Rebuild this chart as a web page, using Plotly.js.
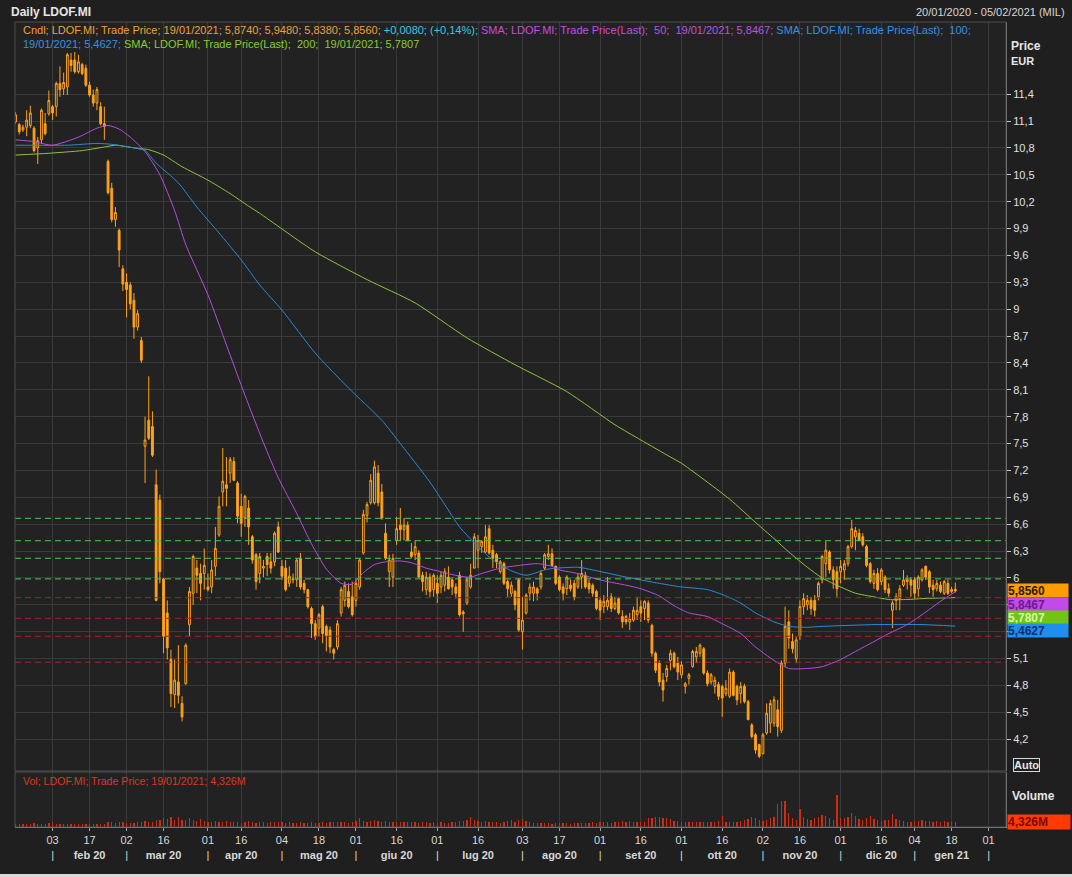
<!DOCTYPE html>
<html><head><meta charset="utf-8">
<script src="https://cdn.plot.ly/plotly-3.0.1.min.js"></script>
<style>html,body{margin:0;padding:0;background:#1f1f1f;overflow:hidden}#chart{width:1072px;height:877px}</style>
</head><body><div id="chart"></div>
<script>
// ---- calendar (trading days, Borsa Italiana) ----
const startDate = '2020-01-20';
const endDate = '2021-02-05';
const holidays = ['2020-04-10','2020-04-13','2020-05-01','2020-12-24','2020-12-25','2020-12-31','2021-01-01'];

// ---- OHLC values (one per trading day, 20/01/2020 .. 19/01/2021) ----
const openP = [
11.09,11.06,11.00,11.03,11.05,11.02,10.80,10.89,11.07,11.18,
11.26,11.26,11.52,11.46,11.48,11.78,11.78,11.65,11.73,11.69,
11.50,11.39,11.30,11.26,11.07,10.65,10.35,10.00,9.88,9.45,
9.30,9.27,9.10,8.80,8.65,7.47,7.76,7.69,7.04,6.87,
5.99,5.61,5.09,4.70,4.84,4.60,4.82,5.48,5.83,6.11,
6.05,6.05,5.90,5.90,6.13,6.48,6.96,7.04,7.17,7.30,
7.06,6.80,6.67,6.78,6.46,6.26,6.05,6.11,6.24,6.18,
6.18,6.57,6.13,6.11,5.94,5.98,5.98,6.22,5.94,5.87,
5.66,5.49,5.44,5.68,5.46,5.42,5.20,5.23,5.61,5.75,
5.85,5.79,5.75,5.90,6.28,6.70,6.84,6.84,7.17,6.96,
6.50,6.07,6.01,6.42,6.59,6.54,6.59,6.29,6.26,6.28,
6.03,5.87,6.01,5.87,5.94,5.90,5.92,6.01,5.98,5.90,
6.03,5.62,5.72,5.90,6.11,6.31,6.35,6.29,6.55,6.31,
6.26,6.07,6.16,5.96,5.83,5.85,5.98,5.40,5.61,5.83,
5.83,5.88,5.90,6.11,6.24,6.27,6.13,6.01,5.90,5.88,
5.92,5.94,5.90,6.01,6.03,5.94,5.92,5.85,5.75,5.68,
5.68,5.79,5.66,5.77,5.57,5.57,5.51,5.53,5.59,5.68,
5.66,5.72,5.47,5.16,5.05,4.86,4.90,5.08,5.16,5.05,
4.92,4.79,4.88,5.01,5.12,5.16,5.21,4.94,4.84,4.79,
4.81,4.79,4.71,4.68,4.95,4.79,4.71,4.79,4.62,4.36,
4.25,4.14,4.04,4.27,4.38,4.38,4.53,4.30,5.05,5.51,
5.29,5.10,5.35,5.68,5.70,5.75,5.75,5.79,5.98,6.16,
6.29,6.09,6.07,6.07,6.09,6.16,6.35,6.46,6.50,6.46,
6.35,6.16,5.94,6.05,5.96,6.01,5.88,5.64,5.75,5.77,
5.92,5.96,5.98,5.98,5.88,5.98,6.13,6.07,5.92,5.88,
5.92,5.83,5.94,5.85,5.874];
const highP = [
11.20,11.08,11.06,11.22,11.27,11.04,10.92,11.24,11.19,11.44,
11.28,11.54,11.71,11.64,11.86,11.86,11.87,11.84,11.75,11.73,
11.54,11.45,11.48,11.31,11.26,10.67,10.41,10.14,9.90,9.49,
9.40,9.30,9.18,8.99,8.69,7.80,8.25,7.86,7.21,6.93,
6.00,5.75,5.20,5.09,5.25,4.68,5.27,5.90,6.26,6.20,
6.16,6.33,6.05,6.20,6.57,6.91,7.45,7.35,7.35,7.35,
7.08,6.94,6.93,6.87,6.48,6.28,6.28,6.20,6.28,6.28,
6.52,6.63,6.20,6.20,6.13,6.05,6.22,6.28,5.98,5.88,
5.68,5.53,5.61,5.70,5.48,5.46,5.22,5.53,5.90,5.96,
5.94,5.96,5.98,6.22,6.76,6.85,7.16,7.31,7.26,7.05,
6.61,6.26,6.27,6.68,6.78,6.67,6.63,6.39,6.42,6.31,
6.07,6.07,6.05,6.05,6.03,6.07,6.11,6.13,6.01,5.94,
6.07,5.64,6.01,6.16,6.50,6.48,6.42,6.59,6.59,6.37,
6.28,6.20,6.18,5.98,5.96,5.87,6.00,5.79,5.83,5.94,
5.96,5.90,6.09,6.28,6.37,6.33,6.14,6.03,5.94,6.03,
5.98,5.98,6.05,6.20,6.07,5.98,5.94,5.87,5.79,5.81,
6.01,5.83,5.79,5.79,5.64,5.59,5.61,5.68,5.79,5.75,
5.75,5.75,5.49,5.18,5.08,4.94,5.03,5.20,5.18,5.12,
5.07,4.84,4.94,5.20,5.23,5.27,5.23,4.97,4.94,4.90,
4.84,4.81,4.86,4.99,4.97,4.81,4.84,4.82,4.64,4.38,
4.27,4.15,4.27,4.60,4.64,4.68,4.64,5.08,5.68,5.64,
5.38,5.34,5.75,5.83,5.81,5.79,5.81,5.96,6.26,6.41,
6.31,6.13,6.13,6.20,6.20,6.37,6.65,6.57,6.55,6.50,
6.37,6.18,6.09,6.11,6.11,6.03,5.94,5.75,5.83,5.92,
6.09,6.03,6.01,6.01,6.03,6.11,6.14,6.09,5.98,5.98,
5.96,5.98,5.98,5.90,5.948];
const lowP = [
11.07,10.95,10.98,10.93,11.02,10.75,10.62,10.85,10.94,11.16,
11.11,11.15,11.37,11.39,11.39,11.65,11.63,11.63,11.61,11.48,
11.37,11.26,11.22,11.05,10.89,10.28,9.97,9.92,9.47,9.20,
8.91,9.00,8.67,8.76,8.40,7.06,7.54,7.35,5.74,5.94,
5.16,5.09,4.56,4.55,4.60,4.40,4.81,5.35,5.70,5.83,
5.75,5.87,5.85,5.83,6.02,6.46,6.80,6.80,7.06,7.08,
6.61,6.46,6.57,6.37,6.16,5.87,5.94,6.01,6.02,6.05,
6.13,6.28,5.98,5.85,5.90,5.94,5.90,5.87,5.83,5.66,
5.33,5.31,5.35,5.27,5.18,5.16,5.09,5.20,5.57,5.68,
5.66,5.57,5.68,5.87,6.26,6.62,6.82,6.82,6.80,6.65,
6.20,5.90,5.90,6.37,6.42,6.42,6.41,6.22,6.20,6.00,
5.85,5.81,5.79,5.79,5.72,5.83,5.85,5.87,5.81,5.77,
5.57,5.40,5.70,5.88,6.11,6.11,6.28,6.28,6.26,6.11,
6.11,6.05,5.92,5.79,5.79,5.64,5.40,5.20,5.59,5.75,
5.74,5.75,5.87,6.09,6.20,6.13,5.92,5.85,5.75,5.81,
5.85,5.75,5.88,5.88,5.88,5.83,5.79,5.64,5.53,5.61,
5.64,5.62,5.64,5.59,5.44,5.48,5.42,5.51,5.53,5.51,
5.53,5.50,5.12,4.94,4.79,4.62,4.84,4.97,4.99,4.86,
4.88,4.71,4.81,5.00,5.05,5.12,4.92,4.79,4.81,4.71,
4.64,4.45,4.68,4.66,4.68,4.58,4.60,4.60,4.41,4.21,
4.04,3.99,4.03,4.25,4.27,4.34,4.23,4.27,5.01,5.21,
5.16,5.05,5.31,5.59,5.64,5.59,5.57,5.75,5.94,6.01,
6.05,5.88,5.79,5.94,5.98,6.13,6.33,6.31,6.41,6.35,
6.12,5.94,5.88,5.85,5.92,5.83,5.79,5.44,5.64,5.64,
5.90,5.87,5.79,5.77,5.79,5.96,5.98,5.83,5.79,5.85,
5.83,5.81,5.81,5.83,5.838];
const closeP = [
11.17,10.98,11.03,11.11,11.19,10.77,10.88,11.22,10.96,11.33,
11.19,11.52,11.45,11.53,11.84,11.72,11.65,11.76,11.63,11.50,
11.39,11.30,11.45,11.07,11.04,10.30,10.00,10.08,9.66,9.28,
9.22,9.06,8.80,8.95,8.43,7.54,7.56,7.37,5.75,6.07,
5.35,5.22,4.71,4.86,4.69,4.45,5.25,5.85,6.24,6.03,
5.94,6.14,5.87,6.09,6.33,6.80,7.08,7.00,7.32,7.09,
6.69,6.61,6.91,6.57,6.20,5.96,6.24,6.13,6.15,6.11,
6.50,6.29,6.02,5.87,6.02,5.99,6.20,5.90,5.87,5.68,
5.49,5.35,5.59,5.38,5.35,5.23,5.16,5.49,5.87,5.92,
5.68,5.59,5.94,6.20,6.71,6.82,7.09,7.24,6.84,6.67,
6.22,6.20,6.22,6.55,6.54,6.59,6.42,6.24,6.35,6.01,
5.96,6.01,5.85,6.03,5.83,6.03,6.07,5.88,5.90,5.83,
5.59,5.60,5.98,6.03,6.46,6.42,6.41,6.46,6.28,6.22,
6.18,6.18,5.94,5.88,5.92,5.70,5.42,5.53,5.81,5.90,
5.90,5.83,6.05,6.26,6.27,6.14,5.94,5.87,5.83,6.01,
5.88,5.79,6.01,6.05,5.90,5.88,5.83,5.66,5.64,5.74,
5.75,5.66,5.72,5.61,5.51,5.51,5.55,5.64,5.64,5.61,
5.74,5.53,5.16,4.97,4.84,4.75,4.99,5.16,5.01,4.95,
5.03,4.82,4.92,5.18,5.18,5.25,4.94,4.82,4.92,4.86,
4.68,4.66,4.77,4.95,4.69,4.64,4.79,4.62,4.42,4.23,
4.08,4.01,4.25,4.49,4.60,4.64,4.34,5.05,5.46,5.33,
5.21,5.31,5.68,5.77,5.75,5.66,5.64,5.94,6.24,6.31,
6.09,5.98,5.88,6.13,6.16,6.35,6.55,6.53,6.42,6.37,
6.14,5.96,6.05,5.87,6.09,5.87,5.83,5.72,5.79,5.88,
5.98,5.98,5.92,5.83,6.01,6.09,6.01,5.90,5.87,5.94,
5.85,5.96,5.83,5.87,5.856];

// ---- volume (millions), month by month ----
const volJan20 = [2.4,2.8,2.2,2.6,2.3,3.5,3.0,2.8,2.5,3.2];
const volFeb20 = [4.5,3.0,2.7,2.5,2.4,2.6,2.3,2.5,2.4,2.8,2.6,2.2,2.5,3.0,2.8,4.5,4.2,3.8,4.5,4.0];
const volMar20 = [3.8,3.6,3.9,4.2,4.0,5.5,4.8,4.6,6.5,5.8,7.5,6.8,8.5,6.0,8.6,6.5,5.8,8.0,6.2,5.5,6.8,5.0];
const volApr20 = [4.5,4.0,5.2,4.8,4.2,5.0,4.3,4.0,4.6,3.8,4.2,5.5,4.0,3.8,4.5,4.0,3.6,4.2,4.8,4.0];
const volMay20 = [4.0,3.8,4.2,3.6,3.9,4.1,3.7,3.5,4.0,3.8,3.6,4.2,3.9,4.5,4.8,4.2,4.0,4.3,3.9,4.4];
const volJun20 = [5.0,7.5,5.5,4.8,5.2,6.0,5.5,4.6,5.0,4.8,4.5,4.3,4.6,4.2,4.0,4.5,4.1,3.9,4.3,4.0,3.8,4.2];
const volJul20 = [3.8,4.0,3.6,3.9,4.2,4.5,5.0,5.5,6.5,8.6,5.8,5.2,4.6,5.5,4.2,4.0,4.5,3.8,4.2,5.0,5.8,4.4,6.0];
const volAug20 = [7.0,5.0,4.2,3.8,3.5,3.6,3.2,3.4,3.0,3.3,3.1,3.4,3.2,3.0,3.5,3.3,3.6,3.4,3.8,4.0,3.7];
const volSep20 = [4.0,4.2,4.5,3.9,4.6,4.2,5.0,4.8,5.5,4.6,4.0,4.4,4.8,7.5,8.0,9.0,8.5,8.0,7.5,7.0,5.5,5.0];
const volOct20 = [4.2,4.5,4.0,4.4,4.1,4.3,4.0,4.5,4.2,4.6,5.5,10.0,4.8,4.5,4.4,4.8,5.0,6.5,7.2,8.5,8.0,6.0];
const volNov20 = [5.5,6.5,8.0,9.0,20.0,22.5,23.0,12.0,8.0,6.5,16.0,9.0,7.0,6.5,7.5,9.0,10.5,10.0,8.0,6.5,27.5];
const volDec20 = [8.0,7.5,9.0,12.5,9.5,7.0,6.5,8.0,10.0,7.0,6.0,5.5,6.5,6.0,11.7,7.0,6.0,5.0,4.5,4.0];
const volJan21 = [5.5,5.0,6.0,5.5,5.0,4.8,5.2,4.6,5.0,4.5,4.8,4.326];

// ---- moving averages (trading-day index, value) ----
const sma50Idx = [0,5,10,17,22,25,28,31,35,39,43,46,52,57,62,67,71,76,80,84,88,91,94,97,100,104,107,111,115,120,123,126,131,136,141,145,147,152,156,160,165,169,174,178,182,187,191,196,200,205,209,214,218,223,227,232,236,241,245,250,254];
const sma50Val = [10.89,10.87,10.83,10.92,11.02,11.05,11.01,10.92,10.76,10.50,10.10,9.72,9.16,8.60,8.04,7.51,7.12,6.72,6.38,6.10,5.94,5.93,6.06,6.15,6.18,6.19,6.17,6.11,6.07,6.02,6.01,6.05,6.11,6.14,6.16,6.13,6.09,6.05,6.00,5.96,5.92,5.88,5.80,5.69,5.61,5.57,5.49,5.38,5.23,5.08,4.99,4.99,5.01,5.09,5.18,5.29,5.38,5.48,5.59,5.74,5.8467];
const sma100Idx = [0,14,22,26,32,35,38,44,49,55,61,66,72,81,90,99,104,112,116,120,125,129,134,138,144,152,156,165,174,180,187,192,196,200,205,209,214,218,232,245,254];
const sma100Val = [10.83,10.83,10.85,10.84,10.80,10.77,10.63,10.41,10.14,9.85,9.55,9.27,8.99,8.51,8.12,7.76,7.50,7.07,6.82,6.57,6.35,6.20,6.08,6.03,6.10,6.12,6.09,6.01,5.94,5.90,5.87,5.80,5.72,5.61,5.51,5.46,5.45,5.46,5.48,5.48,5.4627];
const sma200Idx = [0,9,18,24,27,32,36,40,45,52,58,63,66,81,95,108,122,135,149,162,169,177,180,193,200,205,209,214,218,223,227,232,236,241,245,254];
const sma200Val = [10.72,10.74,10.77,10.81,10.83,10.80,10.78,10.72,10.59,10.44,10.29,10.15,10.07,9.64,9.33,9.07,8.68,8.38,8.08,7.71,7.54,7.35,7.28,6.88,6.62,6.44,6.29,6.12,6.00,5.90,5.83,5.79,5.76,5.76,5.77,5.7807];

// ---- horizontal levels ----
const greenLevels = [6.666, 6.416, 6.22, 5.99];
const redLevels = [5.78, 5.55, 5.35, 5.06];

// ---- tick labels (5,4 and 5,7 are hidden behind the value tags in the original) ----
const priceTickLabels = ['4,2','4,5','4,8','5,1','5,4','5,7','6','6,3','6,6','6,9','7,2','7,5','7,8','8,1','8,4','8,7','9','9,3','9,6','9,9','10,2','10,5','10,8','11,1','11,4'];
const hiddenPriceLabels = ['5,4','5,7'];
const tickDates = ['2020-02-03','2020-02-17','2020-03-02','2020-03-16','2020-04-01','2020-04-16','2020-05-04','2020-05-18','2020-06-01','2020-06-16','2020-07-01','2020-07-16','2020-08-03','2020-08-17','2020-09-01','2020-09-16','2020-10-01','2020-10-16','2020-11-02','2020-11-16','2020-12-01','2020-12-16','2021-01-04','2021-01-18','2021-02-01'];
const tickDayLabels = ['03','17','02','16','01','16','04','18','01','16','01','16','03','17','01','16','01','16','02','16','01','16','04','18','01'];
const tickMonthLabels = ['|','feb 20','|','mar 20','|','apr 20','|','mag 20','|','giu 20','|','lug 20','|','ago 20','|','set 20','|','ott 20','|','nov 20','|','dic 20','|','gen 21','|'];

// ---- build calendar ----
const dates = [];
{
  const hol = new Set(holidays);
  let d = new Date(startDate + 'T00:00:00Z');
  const end = new Date(endDate + 'T00:00:00Z');
  while (d <= end) {
    const s = d.toISOString().slice(0,10);
    const wd = d.getUTCDay();
    if (wd !== 0 && wd !== 6 && !hol.has(s)) dates.push(s);
    d = new Date(d.getTime() + 86400000);
  }
}
const nBars = closeP.length;
const idx = openP.map((_, i) => i);
const volume = [].concat(volJan20, volFeb20, volMar20, volApr20, volMay20, volJun20, volJul20, volAug20, volSep20, volOct20, volNov20, volDec20, volJan21);
const tickVals = tickDates.map(s => dates.indexOf(s));
const tickText = tickDayLabels.map((d, k) => d + '<br>' + (tickMonthLabels[k] === '|' ? '|' : '<b>' + tickMonthLabels[k] + '</b>'));
const priceTickVals = priceTickLabels.map(s => parseFloat(s.replace(',', '.')));
const priceTickText = priceTickLabels.map(s => hiddenPriceLabels.includes(s) ? '' : s);

const ORANGE = '#ffa31a';
const BG = '#222222';
const FONT = 'Liberation Sans, Arial, sans-serif';

const traces = [
  {type:'candlestick', x: idx, open: openP, high: highP, low: lowP, close: closeP,
   xaxis:'x', yaxis:'y', whiskerwidth: 0,
   increasing:{line:{color:ORANGE, width:1}, fillcolor:BG},
   decreasing:{line:{color:ORANGE, width:1}, fillcolor:ORANGE},
   hoverinfo:'skip', showlegend:false},
  {type:'scatter', mode:'lines', x: sma200Idx, y: sma200Val, line:{color:'#8cc43c', width:1, shape:'spline', smoothing:0.6}, xaxis:'x', yaxis:'y', hoverinfo:'skip', showlegend:false},
  {type:'scatter', mode:'lines', x: sma100Idx, y: sma100Val, line:{color:'#2a8ad8', width:1, shape:'spline', smoothing:0.6}, xaxis:'x', yaxis:'y', hoverinfo:'skip', showlegend:false},
  {type:'scatter', mode:'lines', x: sma50Idx, y: sma50Val, line:{color:'#b44fe0', width:1, shape:'spline', smoothing:0.6}, xaxis:'x', yaxis:'y', hoverinfo:'skip', showlegend:false},
  {type:'bar', x: idx, y: volume, width: 0.35, marker:{color:'#d42a10', line:{width:0}}, xaxis:'x', yaxis:'y2', hoverinfo:'skip', showlegend:false}
];

const mainBottom = 56/805;
const volTop = 55/805;

const shapes = [];
greenLevels.forEach(v => shapes.push({type:'line', xref:'paper', x0:0, x1:1, yref:'y', y0:v, y1:v, line:{color:'#4fc84f', width:1, dash:'6px,4px'}, layer:'above'}));
redLevels.forEach(v => shapes.push({type:'line', xref:'paper', x0:0, x1:1, yref:'y', y0:v, y1:v, line:{color:'#a82424', width:1, dash:'6px,4px'}, layer:'above'}));
shapes.push({type:'rect', xref:'paper', yref:'paper', x0:0, x1:1, y0:mainBottom, y1:1, line:{color:'#4e4e4e', width:1}, layer:'above'});
shapes.push({type:'rect', xref:'paper', yref:'paper', x0:0, x1:1, y0:0, y1:volTop, line:{color:'#4e4e4e', width:1}, layer:'above'});
shapes.push({type:'rect', xref:'paper', yref:'paper', x0:-15/991, x1:1+66/991, y0:-50/805, y1:-47/805, fillcolor:'#d8d8d8', line:{width:0}});

const span = (c, t) => '<span style="color:' + c + '">' + t + '</span>';
const legendLine1 = span('#eea035','Cndl; LDOF.MI; Trade Price; 19/01/2021; 5,8740; 5,9480; 5,8380; 5,8560; ') + span('#3cc6e6','+0,0080; (+0,14%); ') + span('#c050e0','SMA; LDOF.MI; Trade Price(Last);  50;  19/01/2021; 5,8467; ') + span('#3a90e0','SMA; LDOF.MI; Trade Price(Last);  100;');
const legendLine2 = span('#3a90e0','19/01/2021; 5,4627; ') + span('#88cc30','SMA; LDOF.MI; Trade Price(Last);  200;  19/01/2021; 5,7807');

const tag = (text, yv, ys, bg, fg) => ({xref:'paper', x:1, xanchor:'left', xshift:1, yref:'y', y:yv, yanchor:'middle', yshift:ys, text:'<b>' + text + '</b>', showarrow:false, bgcolor:bg, font:{family:FONT, size:12, color:fg}, width:60, align:'left', borderpad:0, height:13});

const annotations = [
  {xref:'paper', x:0, xanchor:'left', xshift:-6, yref:'paper', y:1, yanchor:'middle', yshift:10, text:'<b>Daily LDOF.MI</b>', showarrow:false, font:{family:FONT, size:12, color:'#e6e6e6'}},
  {xref:'paper', x:1, xanchor:'right', xshift:61, yref:'paper', y:1, yanchor:'middle', yshift:10, text:'20/01/2020 - 05/02/2021 (MIL)', showarrow:false, font:{family:FONT, size:11, color:'#d8d8d8'}},
  {xref:'paper', x:0, xanchor:'left', xshift:6, yref:'paper', y:1, yanchor:'middle', yshift:-8, text:legendLine1, showarrow:false, font:{family:FONT, size:11}},
  {xref:'paper', x:0, xanchor:'left', xshift:6, yref:'paper', y:1, yanchor:'middle', yshift:-22, text:legendLine2, showarrow:false, font:{family:FONT, size:11}},
  {xref:'paper', x:1, xanchor:'left', xshift:3, yref:'paper', y:1, yanchor:'middle', yshift:-24, text:'<b>Price</b>', showarrow:false, font:{family:FONT, size:12, color:'#e6e6e6'}},
  {xref:'paper', x:1, xanchor:'left', xshift:3, yref:'paper', y:1, yanchor:'middle', yshift:-39, text:'<b>EUR</b>', showarrow:false, font:{family:FONT, size:11, color:'#e6e6e6'}},
  tag('5,8560', closeP[nBars-1], 0, '#ff9c00', '#2a1800'),
  tag('5,8467', sma50Val[sma50Val.length-1], -13, '#c24ae6', '#6a1a90'),
  tag('5,7807', sma200Val[sma200Val.length-1], -20, '#72c414', '#d8f5b0'),
  tag('5,4627', sma100Val[sma100Val.length-1], -4, '#1e8ff0', '#0a2e70'),
  {xref:'paper', x:1, xanchor:'left', xshift:7, yref:'paper', y:mainBottom, yanchor:'middle', yshift:6, text:'<b>Auto</b>', showarrow:false, bordercolor:'#d8d8d8', borderwidth:1, borderpad:0, font:{family:FONT, size:11, color:'#e6e6e6'}},
  {xref:'paper', x:1, xanchor:'left', xshift:4, yref:'paper', y:volTop, yanchor:'middle', yshift:-24, text:'<b>Volume</b>', showarrow:false, font:{family:FONT, size:12, color:'#e6e6e6'}},
  {xref:'paper', x:1, xanchor:'left', xshift:1, yref:'y2', y:volume[nBars-1], yanchor:'middle', text:'<b>4,326M</b>', showarrow:false, bgcolor:'#ff3a00', font:{family:FONT, size:12, color:'#7a0800'}, width:62, align:'left', borderpad:0, height:14},
  {xref:'paper', x:0, xanchor:'left', xshift:6, yref:'paper', y:volTop, yanchor:'middle', yshift:-9, text:'Vol; LDOF.MI; Trade Price; 19/01/2021; 4,326M', showarrow:false, font:{family:FONT, size:10.6, color:'#d83a22'}}
];

const layout = {
  width:1072, height:877,
  paper_bgcolor:'#1f1f1f', plot_bgcolor:BG,
  margin:{l:15, r:66, t:22, b:50, pad:0},
  showlegend:false,
  separators:',.',
  font:{family:FONT, color:'#d8d8d8', size:11},
  xaxis:{anchor:'y2', range:[-0.15, 267.7], rangeslider:{visible:false},
    tickvals:tickVals, ticktext:tickText, tickangle:0,
    showgrid:true, gridcolor:'#3a3a3a', gridwidth:1, zeroline:false,
    showline:true, linecolor:'#8898a8', linewidth:1,
    ticks:'outside', ticklen:3, tickcolor:'#a0a0a0',
    tickfont:{family:FONT, size:11, color:'#d8d8d8'}},
  yaxis:{domain:[mainBottom, 1], side:'right', range:[3.846, 12.205],
    tickvals:priceTickVals, ticktext:priceTickText,
    showgrid:true, gridcolor:'#3a3a3a', gridwidth:1, zeroline:false,
    showline:true, linecolor:'#8a8a8a', linewidth:1,
    ticks:'outside', ticklen:4, tickcolor:'#c8c8c8',
    tickfont:{family:FONT, size:11, color:'#e0e0e0'}},
  yaxis2:{domain:[0, volTop], side:'right', range:[0, 48], showticklabels:false, showgrid:false, zeroline:false,
    showline:true, linecolor:'#8a8a8a', linewidth:1, ticks:''},
  shapes:shapes,
  annotations:annotations,
  bargap:0
};

Plotly.newPlot('chart', traces, layout, {displayModeBar:false, staticPlot:true});
</script></body></html>
